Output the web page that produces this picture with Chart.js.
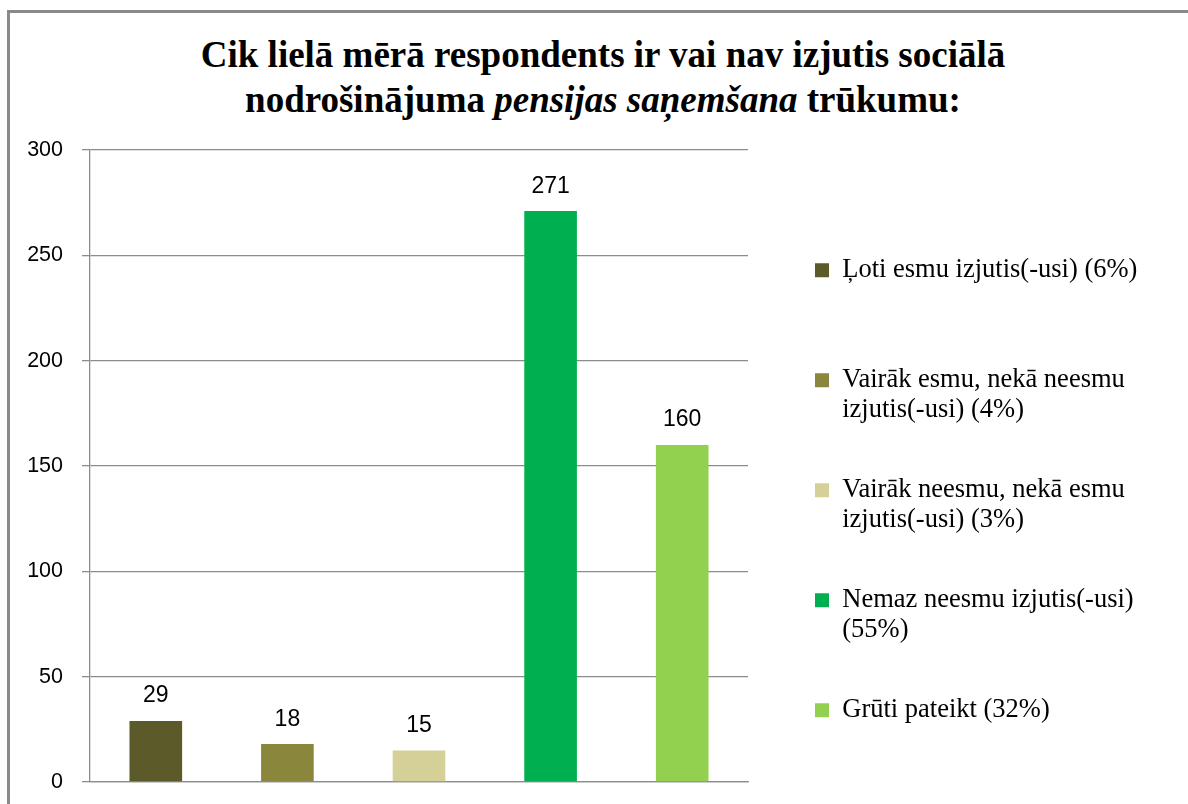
<!DOCTYPE html>
<html>
<head>
<meta charset="utf-8">
<script src="https://cdn.jsdelivr.net/npm/chart.js@4"></script>
<style>
  html, body { margin: 0; padding: 0; background: #fff; overflow: hidden; }
  #wrap { position: relative; width: 1188px; height: 804px; }
  #frame { position: absolute; left: 7px; top: 10px; width: 1300px; height: 900px;
           border: 3px solid #898989; box-sizing: border-box; }
  #title { position: absolute; left: 0; top: 32px; width: 1206px; text-align: center;
           font-family: 'Liberation Serif', 'Times New Roman', serif; font-weight: bold;
           font-size: 37px; line-height: 45px; color: #000; }
  canvas { position: absolute; left: 0; top: 0; }
</style>
</head>
<body>
<div id="wrap">
  <div id="frame"></div>
  <div id="title">Cik lielā mērā respondents ir vai nav izjutis sociālā<br>nodrošinājuma <i>pensijas saņemšana</i> trūkumu:</div>
  <canvas id="c" width="1188" height="804"></canvas>
</div>
<script>
// ---- data ----
const categories = [
  'Ļoti esmu izjutis(-usi)',
  'Vairāk esmu, nekā neesmu izjutis(-usi)',
  'Vairāk neesmu, nekā esmu izjutis(-usi)',
  'Nemaz neesmu izjutis(-usi)',
  'Grūti pateikt'
];
const values = [29, 18, 15, 271, 160];
const legendLabels = [
  ['Ļoti esmu izjutis(-usi) (6%)', ''],
  ['Vairāk esmu, nekā neesmu', 'izjutis(-usi) (4%)'],
  ['Vairāk neesmu, nekā esmu', 'izjutis(-usi) (3%)'],
  ['Nemaz neesmu izjutis(-usi)', '(55%)'],
  'Grūti pateikt (32%)'
];
const yTicks = [0, 50, 100, 150, 200, 250, 300];
const barColors = ['#5C5A29', '#8A873D', '#D5CF98', '#00B050', '#92D050'];

const valueLabels = {
  id: 'valueLabels',
  afterDatasetsDraw(chart) {
    const ctx = chart.ctx;
    ctx.save();
    ctx.font = '23px "Liberation Sans", Arial, sans-serif';
    ctx.fillStyle = '#000';
    ctx.textAlign = 'center';
    ctx.textBaseline = 'alphabetic';
    chart.getDatasetMeta(0).data.forEach((el, i) => {
      ctx.fillText(String(chart.data.datasets[0].data[i]), el.x, el.y - 18.5);
    });
    ctx.restore();
  }
};

// legend box is capped in width by Chart.js layout; nudge it into place
const legendShift = {
  id: 'legendShift',
  afterLayout(chart) {
    const lg = chart.legend;
    if (!lg) return;
    lg.left += 17;
    lg.right = chart.width;
    lg.top += 57;
    lg.bottom = chart.height;
  }
};

new Chart(document.getElementById('c'), {
  type: 'bar',
  data: {
    labels: categories,
    datasets: [{
      data: values,
      backgroundColor: barColors,
      borderWidth: 0,
      barPercentage: 0.4,
      categoryPercentage: 1.0
    }]
  },
  options: {
    responsive: false,
    animation: false,
    layout: { padding: { left: 10, top: 150, right: 194, bottom: 22 } },
    plugins: {
      title: { display: false },
      tooltip: { enabled: false },
      legend: {
        display: true,
        position: 'right',
        align: 'start',
        labels: {
          boxWidth: 14,
          boxHeight: 14,
          padding: 50,
          color: '#000',
          font: { family: '"Liberation Serif", "Times New Roman", serif', size: 26.5, lineHeight: '30px' },
          generateLabels(chart) {
            return legendLabels.map((t, i) => ({
              text: t,
              fillStyle: barColors[i],
              strokeStyle: barColors[i],
              lineWidth: 0,
              hidden: false,
              index: i,
              datasetIndex: 0
            }));
          }
        }
      }
    },
    scales: {
      x: {
        type: 'category',
        offset: true,
        grid: { display: false, drawTicks: false },
        border: { display: true, color: '#8c8c8c', width: 1.3 },
        ticks: { display: false }
      },
      y: {
        min: 0,
        max: 300,
        afterBuildTicks(scale) { scale.ticks = yTicks.map(v => ({ value: v })); },
        afterFit(scale) { scale.width = 80; },
        grid: { color: '#8c8c8c', lineWidth: 1.3, tickLength: 8, drawTicks: true },
        border: { display: true, color: '#8c8c8c', width: 1.3 },
        ticks: {
          padding: 19,
          color: '#000',
          font: { family: '"Liberation Sans", Arial, sans-serif', size: 21.5, lineHeight: 0.1 }
        }
      }
    }
  },
  plugins: [valueLabels, legendShift]
});
</script>
</body>
</html>
